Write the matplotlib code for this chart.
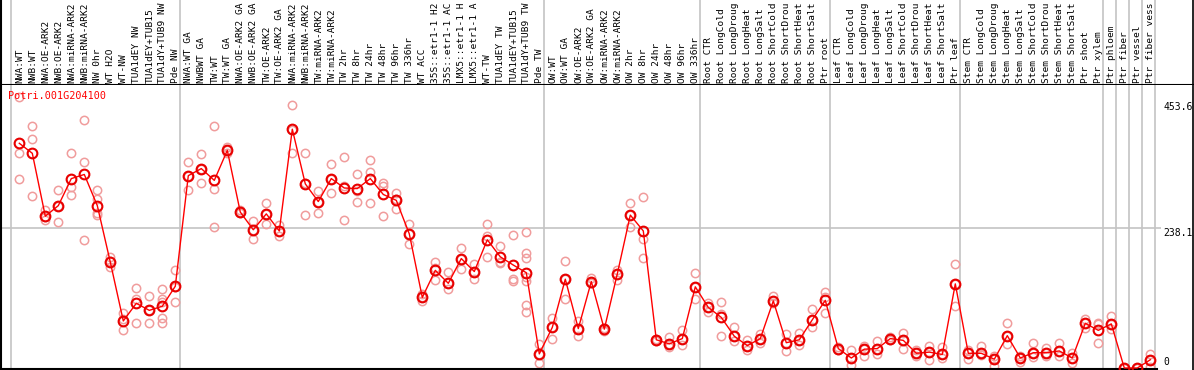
import matplotlib
matplotlib.use("Agg")
import matplotlib.pyplot as plt

gene = "Potri.001G204100"

# sample names as printed (the source cuts them at 14 characters)
samples = [
    "NWA:WT", "NWB:WT", "NWA:OE-ARK2", "NWB:OE-ARK2", "NWA:miRNA-ARK2", "NWB:miRNA-ARK2",
    "NW 0hr", "WT H2O", "WT-NW", "TUA1dEY NW", "TUA1dEY+TUB15", "TUA1dY+TUB9 NW", "Pde NW",
    "NWA:WT GA", "NWBWT GA", "TW:WT", "TW:WT GA", "NWA:OE-ARK2 GA", "NWB:OE-ARK2 GA",
    "TW:OE-ARK2", "TW:OE-ARK2 GA", "NWA:miRNA-ARK2", "NWB:miRNA-ARK2", "TW:miRNA-ARK2",
    "TW:miRNA-ARK2", "TW 2hr", "TW 8hr", "TW 24hr", "TW 48hr", "TW 96hr", "TW 336hr",
    "WT ACC", "35S::etr1-1 H2", "35S::etr1-1 AC", "LMX5::etr1-1 H", "LMX5::etr1-1 A",
    "WT-TW", "TUA1dEY TW", "TUA1dEY+TUB15", "TUA1dY+TUB9 TW", "Pde TW",
    "OW:WT", "OW:WT GA", "OW:OE-ARK2", "OW:OE-ARK2 GA", "OW:miRNA-ARK2", "OW:miRNA-ARK2",
    "OW 2hr", "OW 8hr", "OW 24hr", "OW 48hr", "OW 96hr", "OW 336hr",
    "Root CTR", "Root LongCold", "Root LongDroug", "Root LongHeat", "Root LongSalt",
    "Root ShortCold", "Root ShortDrou", "Root ShortHeat", "Root ShortSalt", "Ptr root",
    "Leaf CTR", "Leaf LongCold", "Leaf LongDroug", "Leaf LongHeat", "Leaf LongSalt",
    "Leaf ShortCold", "Leaf ShortDrou", "Leaf ShortHeat", "Leaf ShortSalt", "Ptr leaf",
    "Stem CTR", "Stem LongCold", "Stem LongDroug", "Stem LongHeat", "Stem LongSalt",
    "Stem ShortCold", "Stem ShortDrou", "Stem ShortHeat", "Stem ShortSalt", "Ptr shoot",
    "Ptr xylem", "Ptr phloem", "Ptr fiber", "Ptr vessel", "Ptr fiber vess",
]

means = [
    382, 365, 258, 276, 322, 329, 276, 180, 80, 110, 98, 105, 139,
    327, 339, 319, 370, 265, 235, 262, 233, 406, 313, 283, 322, 306, 305, 322, 295, 285, 228,
    120, 166, 144, 186, 164, 218, 189, 175, 162, 24,
    69, 151, 67, 147, 66, 160, 260, 233, 48, 41, 50, 138,
    103, 86, 54, 38, 50, 114, 43, 48, 82, 115,
    33, 17, 32, 33, 50, 47, 25, 27, 23, 143,
    25, 25, 15, 55, 17, 26, 26, 29, 17, 76,
    64, 75, 0, 0, 14,
]

replicates = [
    [460, 366, 322], [411, 390, 293], [269, 256, 251], [303, 276, 248], [365, 308, 294],
    [421, 350, 218], [303, 288, 264, 260], [188, 182, 171], [93, 83, 64], [118, 136, 76],
    [122, 98, 76], [134, 117, 112, 85, 76], [166, 138, 112],
    [351, 327, 302], [363, 339, 315], [412, 305, 240], [376, 370, 365], [268, 265, 263],
    [250, 235, 220], [281, 262, 245], [243, 233, 224], [447, 405, 365], [365, 315, 260],
    [301, 283, 264], [346, 322, 298], [358, 310, 252], [329, 301, 283], [353, 333, 281],
    [315, 309, 259], [297, 287, 271], [245, 228, 211], [126, 120, 114], [180, 170, 149],
    [164, 144, 134], [204, 186, 168], [177, 164, 152], [244, 224, 188], [207, 180, 178],
    [226, 151, 148], [231, 195, 187, 154, 148, 107, 96], [40, 24, 9],
    [85, 69, 50], [182, 151, 118], [80, 67, 55], [153, 147, 144], [68, 65, 63],
    [167, 160, 150], [281, 260, 240], [291, 219, 187], [50, 48, 46], [53, 41, 35],
    [65, 50, 39], [161, 138, 117],
    [110, 103, 95], [112, 92, 55], [70, 54, 46], [47, 38, 30], [57, 50, 43],
    [122, 114, 110], [57, 43, 29], [60, 48, 39], [100, 82, 69], [129, 120, 94],
    [36, 33, 30], [31, 17, 5], [38, 32, 21], [46, 33, 24], [52, 50, 48],
    [60, 47, 33], [30, 25, 21], [38, 27, 14], [35, 23, 17], [177, 143, 106],
    [31, 25, 16], [37, 25, 22], [20, 15, 4], [76, 55, 41], [20, 17, 10],
    [43, 26, 18], [34, 26, 20], [43, 29, 20], [26, 17, 8], [84, 76, 68],
    [77, 74, 43], [88, 75, 66], [0, 0, 0], [0, 0, 0], [24, 14, 1],
]

# index of last sample in each group
group_ends = [12, 40, 52, 62, 72, 83, 84, 85, 86, 87]
ytick_vals = [453.6, 238.1, 0]

W, H = 1194, 370
TOP = 85          # pixel row of the line between labels and plot
X0, DX = 19.3, 13.0
Y0PX, VPP = 368.0, 1.70   # pixel row of value 0, value per pixel


def ix(px):
    return (px - X0) / DX


def val(py):
    return (Y0PX - py) * VPP


mono = "DejaVu Sans Mono"
fig = plt.figure(figsize=(W / 100, H / 100), dpi=100)
ax = fig.add_axes([0, 0, 1, (H - TOP) / H])
lab = fig.add_axes([0, (H - TOP) / H, 1, TOP / H])
for a in (ax, lab):
    a.set_xlim(ix(0), ix(W))
    a.axis("off")
ax.set_ylim(val(H), val(TOP))
lab.set_ylim(0, TOP)

x = list(range(len(samples)))
grid = "#c4c4c4"
bounds = [-0.64] + [g + 0.385 for g in group_ends]
for b in bounds:
    ax.axvline(b, color=grid, lw=1.2, zorder=1)
    lab.axvline(b, color=grid, lw=1.2, zorder=1)
ax.hlines(238.1, ix(0), ix(1161), color=grid, lw=1.2, zorder=1)

for i, reps in enumerate(replicates):
    ax.plot([i] * len(reps), reps, "o", ms=6.0, mfc="none", mec="#f09c9c",
            mew=1.1, zorder=2)
ax.plot(x, means, "-", color="#ff0000", lw=1.0, zorder=3)
ax.plot(x, means, "o", ms=7.0, mfc="none", mec="#e80000", mew=1.5, zorder=4)

# frame lines
ax.plot([ix(1), ix(1)], [val(H), val(TOP)], color="black", lw=1.5, clip_on=False)
ax.plot([ix(0), ix(1157)], [val(369), val(369)], color="black", lw=1.5, clip_on=False)
ax.plot([ix(1193), ix(1193)], [val(H), val(TOP)], color="black", lw=1.2, clip_on=False)
lab.plot([ix(1), ix(1)], [0, TOP], color="black", lw=1.5)
lab.plot([ix(1193), ix(1193)], [0, TOP], color="black", lw=1.2)
lab.axhline(0, color="black", lw=1.5)

for i, s in enumerate(samples):
    lab.text(i + 0.05, 2, s, rotation=90, ha="center", va="bottom", fontsize=6.8,
             family=mono, color="black", clip_on=True)

ax.text(ix(8), val(96), gene, color="#ff0000", fontsize=7.3, family=mono,
        ha="left", va="center")

label_rows = [106.7, 232.7, 361.7]
for v, r in zip(ytick_vals, label_rows):
    ax.text(ix(1163), val(r), f"{v:g}", fontsize=7, family=mono, color="black",
            ha="left", va="center")

fig.savefig("out.png", dpi=100)
